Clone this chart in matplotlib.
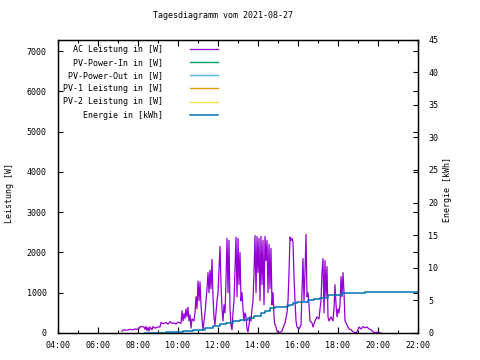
import matplotlib
matplotlib.use("Agg")
import matplotlib.pyplot as plt

# AC power readings (time, watts)
ac_times = ["07:12", "07:15", "07:30", "07:33", "07:45", "07:51", "07:57", "08:03", "08:06", "08:18",
            "08:21", "08:24", "08:27", "08:30", "08:33", "08:36", "08:42", "08:45", "08:51", "09:00",
            "09:06", "09:09", "09:15", "09:24", "09:30", "09:36", "09:42", "09:48", "09:54", "10:00",
            "10:06", "10:09", "10:12", "10:15", "10:18", "10:21", "10:24", "10:27", "10:30", "10:33",
            "10:36", "10:39", "10:42", "10:48", "10:51", "10:54", "10:57", "11:00", "11:03", "11:06",
            "11:09", "11:12", "11:15", "11:18", "11:21", "11:24", "11:27", "11:30", "11:33", "11:36",
            "11:39", "11:42", "11:45", "11:48", "11:51", "11:54", "11:57", "12:00", "12:03", "12:06",
            "12:09", "12:12", "12:15", "12:18", "12:21", "12:24", "12:27", "12:30", "12:33", "12:36",
            "12:39", "12:42", "12:45", "12:48", "12:51", "12:54", "12:57", "13:00", "13:03", "13:06",
            "13:09", "13:12", "13:15", "13:18", "13:21", "13:24", "13:27", "13:30", "13:33", "13:36",
            "13:39", "13:42", "13:45", "13:48", "13:51", "13:54", "13:57", "14:00", "14:03", "14:06",
            "14:09", "14:12", "14:15", "14:18", "14:21", "14:24", "14:27", "14:30", "14:33", "14:36",
            "14:39", "14:42", "14:45", "14:48", "14:51", "14:54", "14:57", "15:00", "15:06", "15:12",
            "15:15", "15:21", "15:27", "15:30", "15:33", "15:36", "15:39", "15:42", "15:45", "15:48",
            "15:51", "15:54", "15:57", "16:03", "16:09", "16:12", "16:15", "16:18", "16:21", "16:24",
            "16:27", "16:30", "16:33", "16:36", "16:42", "16:45", "16:51", "16:57", "17:03", "17:06",
            "17:09", "17:12", "17:15", "17:18", "17:21", "17:24", "17:27", "17:30", "17:33", "17:39",
            "17:45", "17:48", "17:51", "17:54", "17:57", "18:00", "18:03", "18:06", "18:09", "18:12",
            "18:15", "18:18", "18:21", "18:27", "18:33", "18:39", "18:45", "18:51", "18:57", "19:03",
            "19:09", "19:15", "19:21", "19:27", "19:33", "19:39", "19:45", "19:51", "19:57", "20:03",
            "20:09"]
ac_watts = [40, 80, 70, 90, 80, 100, 90, 110, 160, 150,
            90, 160, 60, 140, 50, 150, 80, 160, 120, 150,
            150, 260, 230, 260, 220, 280, 240, 250, 220, 270,
            250, 240, 550, 300, 480, 360, 600, 400, 640, 300,
            450, 120, 350, 300, 500, 900, 600, 1290, 800, 1270,
            700, 350, 80, 300, 500, 800, 1100, 1500, 1000, 1560,
            1100, 1830, 900, 400, 200, 500, 800, 1000, 1600, 2150,
            1200, 600, 300, 700, 500, 1300, 2350, 1000, 2300, 600,
            200, 80, 500, 800, 1600, 2380, 900, 2350, 1200, 2000,
            800, 1000, 600, 300, 500, 400, 100, 30, 200, 400,
            300, 600, 800, 1500, 2420, 1000, 2400, 1500, 2350, 800,
            2400, 1200, 2300, 700, 2400, 1800, 2300, 1000, 2200, 1100,
            2100, 700, 1000, 400, 200, 150, 50, 20, 10, 50,
            120, 250, 500, 800, 1500, 2380, 2300, 2350, 2250, 1400,
            800, 300, 150, 100, 200, 1000, 1850, 800, 1500, 2450,
            900, 1000, 700, 300, 250, 150, 300, 400, 350, 600,
            800, 1500, 1850, 500, 1800, 900, 1650, 400, 300, 400,
            300, 600, 1200, 700, 400, 600, 500, 700, 1400, 900,
            1500, 1000, 300, 200, 100, 80, 30, 10, 20, 150,
            100, 160, 130, 150, 100, 80, 30, 10, 20, 10,
            0]

# cumulative energy (time, kWh)
en_times = ["08:21", "09:24", "10:15", "10:45", "11:21", "11:45", "12:06", "12:24", "12:45", "13:06",
            "13:30", "13:48", "14:09", "14:21", "14:36", "14:51", "15:27", "15:33", "15:45", "15:57",
            "16:30", "16:48", "17:06", "17:30", "17:51", "18:12", "19:21", "22:00"]
en_kwh = [0.0, 0.1, 0.3, 0.5, 0.8, 1.05, 1.35, 1.55, 1.8, 2.0,
          2.3, 2.6, 3.1, 3.4, 3.8, 4.05, 4.1, 4.3, 4.55, 4.8,
          5.05, 5.2, 5.4, 5.75, 5.9, 6.07, 6.25, 6.25]

labels = ["AC Leistung in [W]", "PV-Power-In in [W]", "PV-Power-Out in [W]",
          "PV-1 Leistung in [W]", "PV-2 Leistung in [W]", "Energie in [kWh]"]
colors = ["#9400d3", "#009e73", "#56b4e9", "#e69f00", "#f0e442", "#0072b2"]

x_ticks = [4, 6, 8, 10, 12, 14, 16, 18, 20, 22]


def to_hours(t):
    h, m = t.split(":")
    return int(h) + int(m) / 60.0


mono = "DejaVu Sans Mono"
plt.rcParams["font.family"] = mono
plt.rcParams["font.size"] = 6

fig = plt.figure(figsize=(4.8, 3.6), dpi=100)
ax = fig.add_axes([58 / 480, 1 - 333 / 360, 360 / 480, 293.5 / 360])
ax2 = ax.twinx()

h_ac, = ax.plot([to_hours(t) for t in ac_times], ac_watts, color=colors[0], lw=0.9)
# the PV series have no data on this day
others = [ax.plot([], [], color=c, lw=1.0)[0] for c in colors[1:5]]
h_en, = ax2.plot([to_hours(t) for t in en_times], en_kwh, color=colors[5], lw=1.1,
                 drawstyle="steps-post")

ax.set_xlim(4, 22)
ax.set_ylim(0, 7290)
ax2.set_ylim(0, 45)

ax.set_xticks(x_ticks)
ax.set_xticklabels(["%02d:00" % h for h in x_ticks])
ax.set_xticks(range(4, 23), minor=True)
ax.set_yticks(range(0, 7001, 1000))
ax2.set_yticks(range(0, 46, 5))

ax.tick_params(axis="x", which="major", direction="in", length=4, width=0.8, top=True, pad=6)
ax.tick_params(axis="x", which="minor", direction="in", length=2.2, width=0.8, top=True)
ax.tick_params(axis="y", direction="in", length=3.5, width=0.8, right=True, pad=8)
ax2.tick_params(axis="y", direction="in", length=3.5, width=0.8, pad=7.5)
for a in (ax, ax2):
    for s in a.spines.values():
        s.set_linewidth(0.9)

fig.text(10 / 480, 1 - 193 / 360, "Leistung [W]", rotation=90, ha="center", va="center")
fig.text(447 / 480, 1 - 190 / 360, "Energie [kWh]", rotation=90, ha="center", va="center")
fig.text(223 / 480, 1 - 16 / 360, "Tagesdiagramm vom 2021-08-27", ha="center", va="center")

width = max(len(s) for s in labels)
handles = [h_ac] + others + [h_en]
ax2.legend(handles, [s.rjust(width) for s in labels], loc="upper left",
           bbox_to_anchor=(0.014, 0.982), frameon=False, markerfirst=False,
           handlelength=3.4, handletextpad=3.2, labelspacing=0.5,
           borderpad=0, borderaxespad=0)

fig.savefig("out.png", dpi=100)
